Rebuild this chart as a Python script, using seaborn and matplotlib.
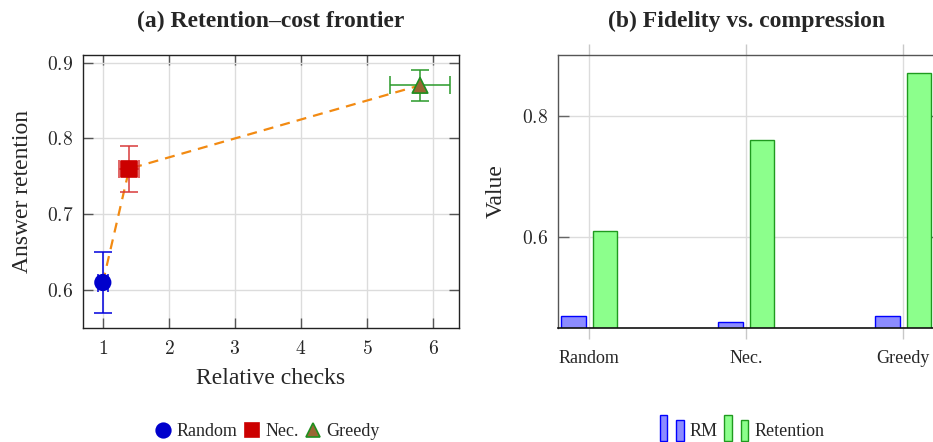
import matplotlib
matplotlib.use("Agg")
import matplotlib.pyplot as plt
from matplotlib.lines import Line2D
from matplotlib.patches import Patch, Rectangle
import pandas as pd
import seaborn as sns

# Panel (a): retention vs. relative checks
METHODS = ["Random", "Nec.", "Greedy"]
REL_CHECKS = [1.0, 1.4, 5.8]
CHECKS_ERR = [0.08, 0.15, 0.45]
RETENTION = [0.61, 0.76, 0.87]
RETENTION_ERR = [0.04, 0.03, 0.02]

# Panel (b): fidelity vs. compression
SERIES = ["RM", "Retention"]
RM_VALUES = [0.47, 0.46, 0.47]
RET_VALUES = [0.61, 0.76, 0.87]

FACE = {"Random": "#0000cc", "Nec.": "#cc0000", "Greedy": "#996633"}
EDGE = {"Random": "#0000cc", "Nec.": "#cc0000", "Greedy": "#1f8f1f"}
ERR = {"Random": "#0000dd", "Nec.": "#d83a3a", "Greedy": "#2a9a2a"}
MARKERS = {"Random": "o", "Nec.": "s", "Greedy": "^"}
BAR_FACE = {"RM": "#8c8cff", "Retention": "#8cff8c"}
BAR_EDGE = {"RM": "#0000ff", "Retention": "#1f9a1f"}
ORANGE = "#f28a12"
GRID = "#dcdcdc"

W, H = 933, 442


class TwoBarHandler:
    """pgfplots-style ybar legend icon: two little bars."""

    def legend_artist(self, legend, orig_handle, fontsize, handlebox):
        w, h = handlebox.width, handlebox.height
        cy = h / 2
        bw = w * 0.3
        fc = orig_handle.get_facecolor()
        ec = orig_handle.get_edgecolor()
        tr = handlebox.get_transform()
        r1 = Rectangle((0, cy - 8.6), bw, 18.6, facecolor=fc, edgecolor=ec,
                       lw=1, transform=tr)
        r2 = Rectangle((w - bw, cy - 8.6), bw, 15.1, facecolor=fc, edgecolor=ec,
                       lw=1, transform=tr)
        handlebox.add_artist(r1)
        handlebox.add_artist(r2)
        return r1


def math_labels(vals, fmt):
    return [f"${fmt.format(v)}$" for v in vals]


def main():
    sns.set_theme(style="white")
    plt.rcParams["font.family"] = ["Liberation Serif", "DejaVu Serif"]
    plt.rcParams["mathtext.fontset"] = "cm"

    fig = plt.figure(figsize=(W / 100, H / 100), dpi=100)
    ax1 = fig.add_axes([83 / W, 114 / H, 376 / W, 273 / H])
    ax2 = fig.add_axes([557.7 / W, 114 / H, 377 / W, 273 / H])

    # ---- (a) Retention-cost frontier ----
    df = pd.DataFrame({"method": METHODS, "checks": REL_CHECKS,
                       "retention": RETENTION})
    sns.lineplot(data=df, x="checks", y="retention", sort=False, ax=ax1,
                 color=ORANGE, lw=1.6, zorder=2)
    ax1.lines[-1].set_dashes([4.5, 3.2])

    for m, x, y, xe, ye in zip(METHODS, REL_CHECKS, RETENTION, CHECKS_ERR,
                               RETENTION_ERR):
        ax1.errorbar(x, y, xerr=xe, yerr=ye, fmt="none", ecolor=ERR[m],
                     elinewidth=1.1, capsize=6.5, capthick=1.1, zorder=3)

    sns.scatterplot(data=df, x="checks", y="retention", hue="method",
                    style="method", palette=FACE, markers=MARKERS, s=125,
                    legend=False, ax=ax1, zorder=4, linewidth=1.2)
    ax1.collections[-1].set_edgecolors([EDGE[m] for m in METHODS])

    ax1.set_xlim(0.70, 6.39)
    ax1.set_ylim(0.55, 0.91)
    xt = [1, 2, 3, 4, 5, 6]
    yt = [0.6, 0.7, 0.8, 0.9]
    ax1.set_xticks(xt, math_labels(xt, "{}"))
    ax1.set_yticks(yt, math_labels(yt, "{:.1f}"))
    ax1.tick_params(axis="both", which="both", direction="in", length=7,
                    width=1, color="#555555", labelsize=14, top=True,
                    right=True, bottom=True, left=True)
    ax1.tick_params(axis="x", pad=8.5)
    ax1.tick_params(axis="y", pad=7)
    ax1.grid(True, color=GRID, lw=1)
    ax1.set_axisbelow(True)
    for sp in ax1.spines.values():
        sp.set_color("#222222")
        sp.set_linewidth(1.0)

    ax1.set_xlabel("Relative checks", fontsize=17)
    ax1.xaxis.label.set_va("baseline")
    ax1.xaxis.set_label_coords(0.5, -(384 - 328) / 273)
    ax1.set_ylabel("Answer retention", fontsize=17)
    ax1.yaxis.set_label_coords(-(83 - 33) / 376, 0.5)

    # ---- (b) Fidelity vs. compression ----
    df2 = pd.DataFrame({
        "method": METHODS * 2,
        "series": [SERIES[0]] * 3 + [SERIES[1]] * 3,
        "value": RM_VALUES + RET_VALUES,
    })
    sns.barplot(data=df2, x="method", y="value", hue="series",
                palette=BAR_FACE, saturation=1, width=0.4, gap=0.22,
                errorbar=None, legend=False, ax=ax2, linewidth=1)
    for cont, s in zip(ax2.containers, SERIES):
        for bar in cont:
            bar.set_edgecolor(BAR_EDGE[s])

    ax2.set_xlim(-0.2, 2.2)
    ax2.set_ylim(0.45, 0.9)
    yt2 = [0.6, 0.8]
    ax2.set_yticks(yt2, math_labels(yt2, "{:.1f}"))
    ax2.tick_params(axis="x", direction="out", length=8, width=1,
                    color="#c8c8c8", top=True, bottom=True, labelsize=13,
                    pad=8)
    ax2.tick_params(axis="y", direction="in", length=8, width=1,
                    color="#666666", left=True, right=True, labelsize=14,
                    pad=7)
    ax2.grid(True, color=GRID, lw=1)
    ax2.set_axisbelow(True)
    for name, sp in ax2.spines.items():
        sp.set_color("#555555")
        sp.set_linewidth(1.0)
    ax2.spines["bottom"].set_color("#111111")
    ax2.spines["bottom"].set_linewidth(1.2)

    ax2.set_xlabel("")
    ax2.set_ylabel("Value", fontsize=17)
    ax2.yaxis.set_label_coords(-(557.7 - 507) / 377, 0.5)

    # ---- titles ----
    for ax, title in [(ax1, "(a) Retention\u2013cost frontier"),
                      (ax2, "(b) Fidelity vs. compression")]:
        pos = ax.get_position()
        fig.text(pos.x0 + pos.width / 2, 1 - 27 / H, title, ha="center",
                 va="baseline", fontsize=17, fontweight="bold")

    # ---- legends ----
    handles = [Line2D([], [], linestyle="none", marker=MARKERS[m],
                      markersize=10.5, markerfacecolor=FACE[m],
                      markeredgecolor=EDGE[m], markeredgewidth=1.2)
               for m in METHODS]
    fig.legend(handles, METHODS, loc="center",
               bbox_to_anchor=(267.7 / W, 1 - 431.5 / H), ncol=3,
               frameon=False, fontsize=13, handlelength=0.8,
               handletextpad=0.35, columnspacing=0.4, borderpad=0)

    bar_handles = [Patch(facecolor=BAR_FACE[s], edgecolor=BAR_EDGE[s])
                   for s in SERIES]
    fig.legend(bar_handles, SERIES, loc="center",
               bbox_to_anchor=(742 / W, 1 - 431 / H), ncol=2, frameon=False,
               fontsize=13, handlelength=1.33, handletextpad=0.33,
               columnspacing=0.37, borderpad=0,
               handler_map={h: TwoBarHandler() for h in bar_handles})

    fig.savefig("out.png", dpi=100)


if __name__ == "__main__":
    main()
